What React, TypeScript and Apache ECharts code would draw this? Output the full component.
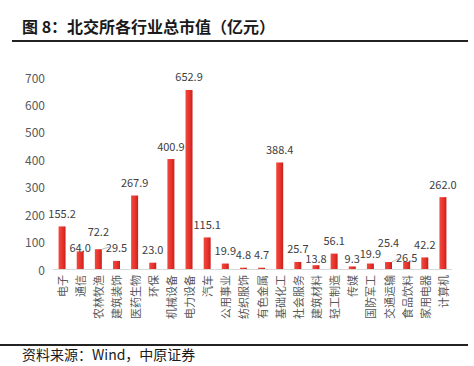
import React, { useEffect, useRef } from "react";
import * as echarts from "echarts";

const categories = ["电子", "通信", "农林牧渔", "建筑装饰", "医药生物", "环保", "机械设备", "电力设备", "汽车", "公用事业", "纺织服饰", "有色金属", "基础化工", "社会服务", "建筑材料", "轻工制造", "传媒", "国防军工", "交通运输", "食品饮料", "家用电器", "计算机"];
const values = [155.2, 64.0, 72.2, 29.5, 267.9, 23.0, 400.9, 652.9, 115.1, 19.9, 4.8, 4.7, 388.4, 25.7, 13.8, 56.1, 9.3, 19.9, 25.4, 26.5, 42.2, 262.0];
const yTicks = [0, 100, 200, 300, 400, 500, 600, 700];

// label nudges (px, + = down) and leader lines, as in the reference
const labelShift: Record<string, number> = { "通信": 9, "农林牧渔": -5, "建筑材料": 6, "传媒": 5, "国防军工": 3, "交通运输": -7, "食品饮料": 9 };
const leaderLines = ["农林牧渔", "交通运输"];

const FONT = "'Noto Sans CJK SC', 'Noto Sans', sans-serif";

export default function App() {
  const ref = useRef<HTMLDivElement>(null);
  useEffect(() => {
    if (!ref.current) return;
    const chart = echarts.init(ref.current, null, { renderer: "svg" });
    const data = values.map((v, i) => {
      const item: any = { value: v };
      const c = categories[i];
      if (labelShift[c] !== undefined) item.label = { offset: [0, labelShift[c]] };
      if (leaderLines.includes(c)) item.labelLine = { show: true, lineStyle: { color: "#bfbfbf", width: 1 } };
      return item;
    });
    chart.setOption({
      animation: false,
      textStyle: { fontFamily: FONT },
      grid: { left: 53, right: 22, top: 77, bottom: 97, containLabel: false },
      xAxis: {
        type: "category",
        data: categories,
        axisLine: { show: true, lineStyle: { color: "#d9d9d9", width: 1 } },
        axisTick: { show: false },
        axisLabel: { interval: 0, rotate: 90, fontSize: 11, color: "#595959", margin: 6, fontFamily: FONT },
      },
      yAxis: {
        type: "value",
        min: yTicks[0],
        max: yTicks[yTicks.length - 1],
        interval: 100,
        axisLine: { show: false },
        axisTick: { show: false },
        splitLine: { show: false },
        axisLabel: { fontSize: 12, color: "#595959", margin: 8, fontFamily: FONT },
      },
      series: [
        {
          type: "bar",
          data,
          barWidth: 7,
          itemStyle: {
            color: new echarts.graphic.LinearGradient(0, 0, 1, 0, [
              { offset: 0, color: "#f04a3e" },
              { offset: 0.6, color: "#e8302a" },
              { offset: 1, color: "#c4211b" },
            ]),
          },
          label: {
            show: true,
            position: "top",
            distance: 8,
            fontSize: 11,
            color: "#404040",
            fontFamily: FONT,
            formatter: (p: any) => Number(p.value).toFixed(1),
          },
        },
      ],
      graphic: [
        {
          type: "text",
          left: 22,
          top: 18,
          style: { text: "图 8：北交所各行业总市值（亿元）", fontSize: 16, fontWeight: "bold", fill: "#1a1a1a", fontFamily: FONT },
        },
        { type: "line", shape: { x1: 12, y1: 41, x2: 468, y2: 41 }, style: { stroke: "#222", lineWidth: 2 } },
        { type: "line", shape: { x1: 0, y1: 345, x2: 468, y2: 345 }, style: { stroke: "#222", lineWidth: 2 } },
        {
          type: "text",
          left: 22,
          top: 347,
          style: { text: "资料来源：Wind，中原证券", fontSize: 14, fill: "#1a1a1a", fontFamily: FONT },
        },
      ],
    });
    return () => chart.dispose();
  }, []);
  return <div ref={ref} style={{ width: 474, height: 366, position: "absolute", left: 0, top: 0, background: "#fff" }} />;
}
